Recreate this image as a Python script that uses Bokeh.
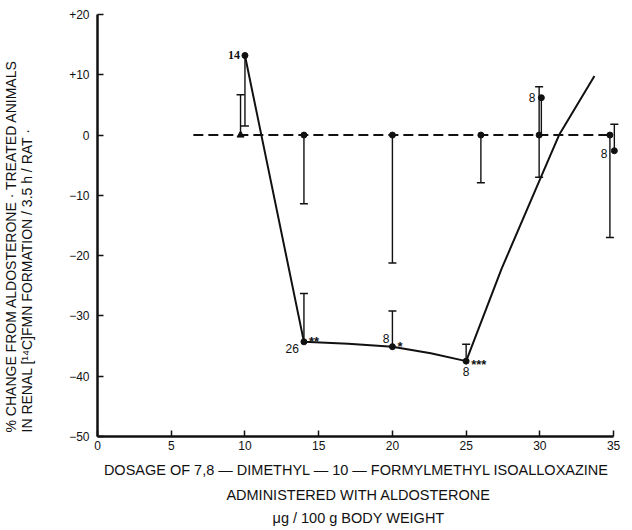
from bokeh.plotting import figure
from bokeh.models import Range1d, ColumnDataSource, Whisker, TeeHead, FixedTicker, Title
from bokeh.core.properties import value
from bokeh.embed import file_html
from bokeh.resources import INLINE

# ---- data ----
x_ticks = [0, 5, 10, 15, 20, 25, 30, 35]
y_ticks = [20, 10, 0, -10, -20, -30, -40, -50]
y_tick_labels = ["+20", "+10", "0", "\u221210", "\u221220", "\u221230", "\u221240", "\u221250"]

ctrl_x = [9.7, 14, 20, 26, 29.95, 34.75]
ctrl_y = [0, 0, 0, 0, 0, 0]

treat_x = [10, 14, 20, 25, 30.1, 35.05]
treat_y = [13.2, -34.3, -35.1, -37.5, 6.2, -2.6]
treat_n = ["14", "26", "8", "8", "8", "8"]
treat_sig = ["", "**", "*", "***", "", ""]

err_x = [9.7, 10, 14, 14, 20, 20, 26, 25, 29.95, 30.1, 34.75, 35.05]
err_lo = [0, 1.5, -11.4, -34.3, -21.2, -35.1, -7.9, -37.5, -7.0, 0, -17.0, -2.6]
err_hi = [6.7, 13.2, 0, -26.3, 0, -29.2, 0, -34.7, 8.0, 6.2, 0, 1.8]
err_cap = ["hi", "lo", "lo", "hi", "lo", "hi", "lo", "hi", "both", "none", "lo", "hi"]

fit_x = [10, 14, 17, 20, 22.6, 25, 27.4, 30, 31.3, 33.7]
fit_y = [13.2, -34.3, -34.6, -35.1, -36.2, -37.5, -22.2, -7.4, 0, 9.8]

ref_x = [6.5, 34.75]
ref_y = [0, 0]

x_title = ["DOSAGE  OF 7,8 \u2014 DIMETHYL \u2014 10 \u2014 FORMYLMETHYL ISOALLOXAZINE",
           "ADMINISTERED WITH ALDOSTERONE",
           "\u03bcg / 100 g BODY WEIGHT"]
y_title = ["% CHANGE FROM ALDOSTERONE \u00b7 TREATED ANIMALS",
           "IN RENAL [\u00b9\u2074C]FMN FORMATION  / 3.5 h / RAT \u00b7"]

# ---- layout / style (not data) ----
W, H = 632, 530
FONT = "Liberation Sans"
INK = "#111111"

p = figure(width=W, height=H, x_range=Range1d(0, 35.4), y_range=Range1d(-50, 20),
           output_backend="svg", toolbar_location=None,
           min_border_left=97, min_border_right=13, min_border_top=14, min_border_bottom=94)
p.xgrid.visible = False
p.ygrid.visible = False
p.outline_line_color = None
p.background_fill_color = "white"
p.border_fill_color = "white"

for ax in (p.xaxis[0], p.yaxis[0]):
    ax.axis_line_width = 2.5
    ax.axis_line_color = INK
    ax.major_tick_line_color = INK
    ax.major_tick_line_width = 1.5
    ax.major_tick_in = 6
    ax.major_tick_out = 0
    ax.minor_tick_line_color = None
    ax.major_label_text_font = FONT
    ax.major_label_text_color = INK

p.xaxis.bounds = (0, 35)
p.xaxis.ticker = FixedTicker(ticks=x_ticks)
p.yaxis.ticker = FixedTicker(ticks=y_ticks)
p.yaxis.major_label_overrides = {t: s for t, s in zip(y_ticks, y_tick_labels)}
p.xaxis.major_label_text_font_size = "12px"
p.yaxis.major_label_text_font_size = "12px"
p.xaxis.major_label_standoff = 4
p.yaxis.major_label_standoff = 8
# invisible spacer label to push the y title outward
p.yaxis.axis_label = "\u00a0"
p.yaxis.axis_label_text_font_size = "1px"
p.yaxis.axis_label_standoff = 27

# reference (control) dashed line
p.line(ref_x, ref_y, line_color=INK, line_width=2, line_dash="10 5")

# fitted curve
p.line(fit_x, fit_y, line_color=INK, line_width=2)

# error bars
def sub(cond):
    idx = [i for i, c in enumerate(err_cap) if cond(c)]
    return ColumnDataSource(dict(base=[err_x[i] for i in idx],
                                 lower=[err_lo[i] for i in idx],
                                 upper=[err_hi[i] for i in idx]))

cap = dict(size=8, line_color=INK, line_width=1.5)
for cond, lh, uh in [
    (lambda c: c == "hi", None, TeeHead(**cap)),
    (lambda c: c == "lo", TeeHead(**cap), None),
    (lambda c: c == "both", TeeHead(**cap), TeeHead(**cap)),
    (lambda c: c == "none", None, None),
]:
    p.add_layout(Whisker(source=sub(cond), base="base", lower="lower", upper="upper",
                         dimension="height", line_color=INK, line_width=1.4,
                         lower_head=lh, upper_head=uh))

# control points
p.scatter(ctrl_x[1:], ctrl_y[1:], size=6, color=INK)
p.scatter(ctrl_x[:1], ctrl_y[:1], marker="triangle", size=7, color=INK)
# treated points
p.scatter(treat_x, treat_y, size=6, color=INK)

# n labels
n_dx = [-5, -5, -3, 0, -6, -7]
n_dy = [0, 7, -8, 10, 0, 3]
n_align = ["right", "right", "right", "center", "right", "right"]
for i in range(len(treat_x)):
    p.text([treat_x[i]], [treat_y[i]], text=[treat_n[i]], x_offset=n_dx[i], y_offset=n_dy[i],
           text_align=n_align[i], text_baseline="middle",
           text_font=value("Liberation Serif" if i == 0 else FONT),
           text_font_size="12px", text_color=INK,
           text_font_style="bold" if i == 0 else "normal")

# significance stars
sig_dy = [0, 0, 0, 3, 0, 0]
for i in range(len(treat_x)):
    if treat_sig[i]:
        p.text([treat_x[i]], [treat_y[i]], text=[treat_sig[i]], x_offset=5, y_offset=sig_dy[i],
               text_align="left", text_baseline="middle", text_font=value(FONT),
               text_font_size="13px", text_color=INK, text_font_style="bold")

# axis titles as stacked titles outside the frame
for t, so in zip(x_title, [14, 1, 8]):
    p.add_layout(Title(text=t, align="center", standoff=so, text_font=FONT,
                       text_font_size="14.5px", text_font_style="normal",
                       text_color=INK), "below")
p.add_layout(Title(text="\n".join(y_title), align="left", offset=4, standoff=0,
                   text_font=FONT, text_font_size="14px", text_font_style="normal",
                   text_line_height=1.05, text_color=INK), "left")

open("out.html", "w").write(file_html(p, INLINE))
